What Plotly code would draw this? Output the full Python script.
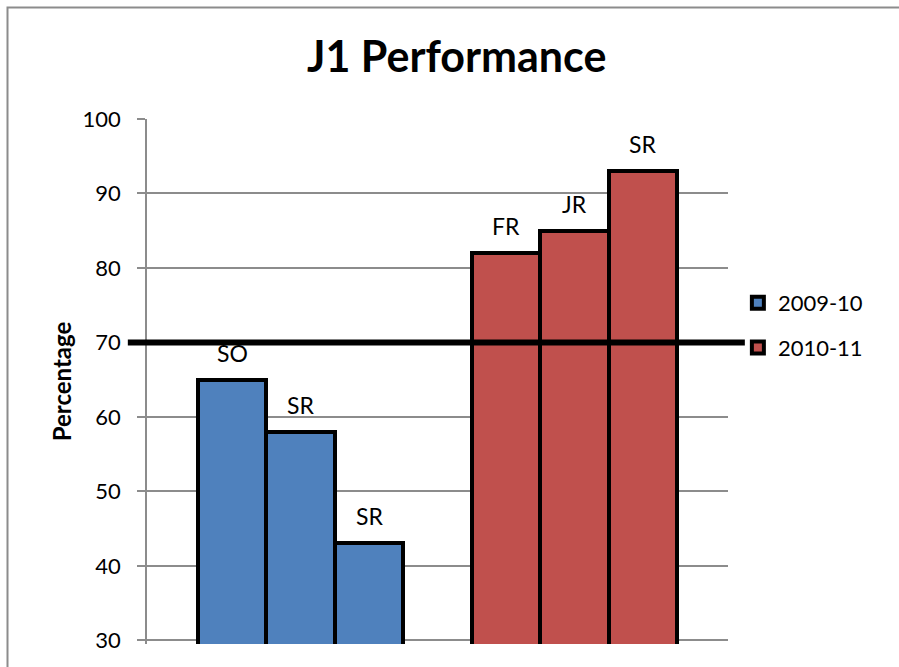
import plotly.graph_objects as go

# Season groups and the class of each bar within them
seasons = ["2009-10", "2010-11"]
classes_0910 = ["SO", "SR", "SR"]
scores_0910 = [65, 58, 43]
classes_1011 = ["FR", "JR", "SR"]
scores_1011 = [82, 85, 93]
target_score = 70

y_ticks = [30, 40, 50, 60, 70, 80, 90, 100]

colors = ["#4F81BD", "#C0504D"]
slot = 0.25  # width of one bar in group units
font_family = "Lato, 'Open Sans', sans-serif"


def slot_positions(group_index, n):
    return [group_index + (k - (n - 1) / 2) * slot for k in range(n)]


fig = go.Figure()
annotations = []
for gi, (season, cls, vals) in enumerate(
    [(seasons[0], classes_0910, scores_0910), (seasons[1], classes_1011, scores_1011)]
):
    xs = slot_positions(gi, len(vals))
    fig.add_trace(
        go.Bar(
            x=xs,
            y=vals,
            width=slot,
            name=season,
            legendgroup=season,
            marker=dict(color=colors[gi], line=dict(color="black", width=4)),
            hovertext=cls,
        )
    )
    for x, v, c in zip(xs, vals, cls):
        annotations.append(
            dict(
                x=x, y=v, xref="x", yref="y", text=c, showarrow=False,
                yanchor="middle", yshift=27,
                font=dict(family=font_family, size=23, color="black"),
            )
        )

grey = "#8C8C8C"
fig.update_layout(
    width=899,
    height=667,
    margin=dict(l=147, r=171, t=119, b=23),
    paper_bgcolor="white",
    plot_bgcolor="white",
    font=dict(family=font_family, color="black"),
    title=dict(
        text="<b>J1 Performance</b>",
        x=0.508, xanchor="center", y=1 - 57 / 667, yanchor="middle",
        font=dict(family=font_family, size=43, color="black"),
    ),
    xaxis=dict(
        range=[-0.5614, 1.5606],
        showgrid=False, zeroline=False, showline=False,
        showticklabels=False, ticks="",
    ),
    yaxis=dict(
        range=[29.5, 100],
        tickvals=y_ticks,
        showgrid=True, gridcolor=grey, gridwidth=1.5,
        zeroline=False,
        showline=True, linecolor=grey, linewidth=1.5,
        ticks="outside", ticklen=8, tickcolor=grey, tickwidth=1.5,
        ticklabelstandoff=12,
        tickfont=dict(family=font_family, size=22, color="black"),
        title=dict(
            text="<b>Percentage</b>", standoff=4,
            font=dict(family=font_family, size=24, color="black"),
        ),
    ),
    legend=dict(
        x=1.017, xanchor="left", y=0.6895, yanchor="top",
        font=dict(family=font_family, size=22, color="black"),
        tracegroupgap=13,
        bgcolor="rgba(0,0,0,0)",
    ),
    showlegend=True,
    bargap=0,
    annotations=annotations,
    shapes=[
        # target line across the plot
        dict(
            type="line", xref="paper", yref="y",
            x0=-0.033, x1=1.029, y0=target_score, y1=target_score,
            line=dict(color="black", width=6), layer="above",
        ),
        # chart frame
        dict(
            type="rect", xref="paper", yref="paper",
            x0=-0.2401, x1=1.35, y0=-0.2, y1=1.2124,
            line=dict(color=grey, width=2), fillcolor="rgba(0,0,0,0)",
            layer="below",
        ),
    ],
)

fig.write_html("out.html")
